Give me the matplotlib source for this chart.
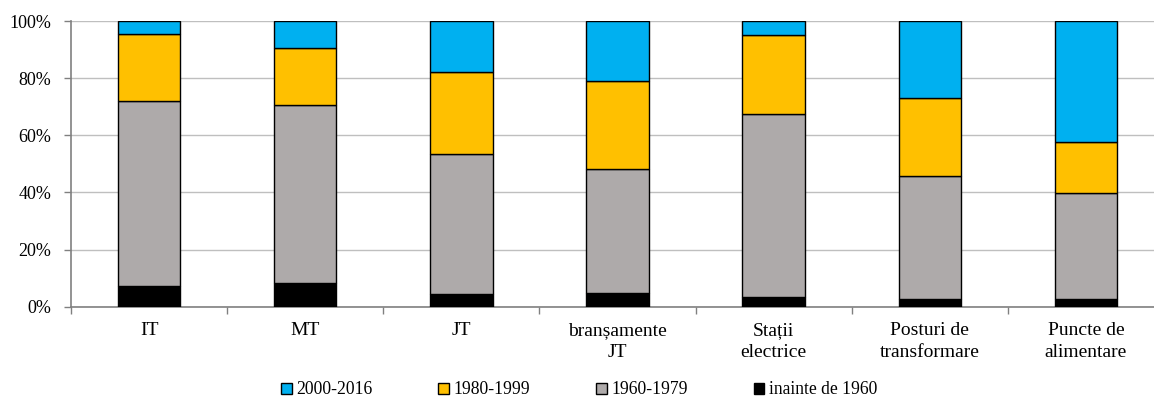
import matplotlib
matplotlib.use("Agg")
import matplotlib.pyplot as plt
import numpy as np
from matplotlib.patches import Patch

categories = ["IT", "MT", "JT", "branșamente\nJT", "Stații\nelectrice",
              "Posturi de\ntransformare", "Puncte de\nalimentare"]
inainte_1960 = [7.4, 8.4, 4.3, 4.9, 3.3, 2.8, 2.6]
p1960_1979 = [64.6, 62.2, 49.0, 43.3, 64.1, 43.1, 37.1]
p1980_1999 = [23.6, 20.1, 29.0, 30.8, 27.6, 27.1, 17.9]
p2000_2016 = [4.4, 9.3, 17.7, 21.0, 5.0, 27.0, 42.4]

series = [("inainte de 1960", inainte_1960, "#000000"),
          ("1960-1979", p1960_1979, "#AEAAAA"),
          ("1980-1999", p1980_1999, "#FFC000"),
          ("2000-2016", p2000_2016, "#00B0F0")]

plt.rcParams['font.family'] = ['Liberation Serif', 'DejaVu Serif']

fig = plt.figure(figsize=(11.54, 3.98), dpi=100)
W, H = 1154, 398
x0, x1 = 71, 1164
ytop, ybot = 21, 306.7
ax = fig.add_axes([x0 / W, (H - ybot) / H, (x1 - x0) / W, (ybot - ytop) / H])

x = np.arange(len(categories))
bottom = np.zeros(len(categories))
handles = {}
for name, vals, col in series:
    v = np.array(vals, dtype=float)
    ax.bar(x, v, 0.40, bottom=bottom, color=col, edgecolor="#000000",
           linewidth=1.0, zorder=3, label=name)
    handles[name] = Patch(facecolor=col, edgecolor="#000000", linewidth=1.0)
    bottom += v

ax.set_xlim(-0.5, len(categories) - 0.5)
ax.set_ylim(0, 100)
ax.set_yticks(np.arange(0, 101, 20))
ax.set_yticklabels([f"{t}%" for t in range(0, 101, 20)], fontsize=13)
ax.yaxis.grid(True, color="#BFBFBF", linewidth=1.0, zorder=0)
ax.set_axisbelow(True)

ax.set_xticks(x)
ax.set_xticklabels(categories, fontsize=14)
for lbl in ax.get_xticklabels():
    lbl.set_linespacing(1.4)
ax.tick_params(axis="x", which="major", length=0, pad=11)
ax.set_xticks(np.arange(-0.5, len(categories), 1.0), minor=True)
ax.tick_params(axis="x", which="minor", length=5, color="#808080", width=1)
ax.tick_params(axis="y", length=5, color="#808080", width=1, pad=9)

for s in ["top", "right"]:
    ax.spines[s].set_visible(False)
ax.spines["left"].set_color("#808080")
ax.spines["bottom"].set_color("#808080")
ax.spines["left"].set_linewidth(1.2)
ax.spines["bottom"].set_linewidth(1.2)

order = ["2000-2016", "1980-1999", "1960-1979", "inainte de 1960"]
fig.legend([handles[n] for n in order], order, loc="center",
           bbox_to_anchor=(579 / W, (H - 390) / H), ncol=4, frameon=False,
           fontsize=12.7, handlelength=0.6, handleheight=0.6,
           handletextpad=0.25, columnspacing=3.75, borderaxespad=0)

fig.savefig("out.png", dpi=100)
